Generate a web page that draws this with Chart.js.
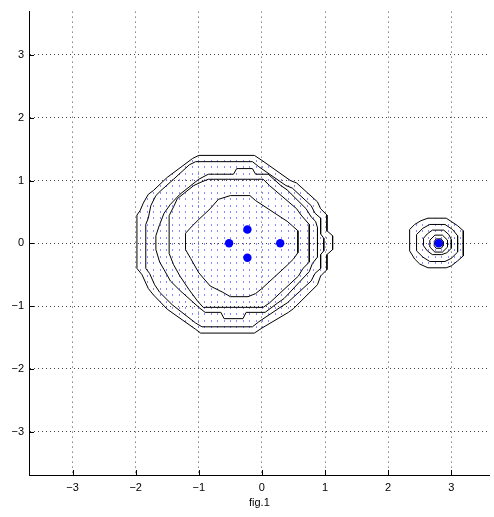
<!DOCTYPE html>
<html>
<head>
<meta charset="utf-8">
<script src="https://cdn.jsdelivr.net/npm/chart.js@4.4.1/dist/chart.umd.min.js"></script>
<style>
html, body { margin: 0; padding: 0; background: #fff; }
</style>
</head>
<body>
<canvas id="graphCanvas" width="494" height="517"></canvas>
<script>
// axis setup
var xTicks = [-3, -2, -1, 0, 1, 2, 3];
var yTicks = [-3, -2, -1, 0, 1, 2, 3];
var xRange = [-3.69, 3.61];
var yRange = [-3.69, 3.69];

// cluster centres (big blue dots)
var centerX = [-0.52, -0.23, -0.23, 0.29, 2.80];
var centerY = [0.00, 0.22, -0.23, 0.00, 0.00];

// contour lines of the big cluster, outer to inner
var bigC1 = [[-1.00,1.40],[-0.12,1.40],[0.00,1.32],[0.45,1.00],[0.55,0.96],[0.88,0.66],[0.93,0.55],[1.03,0.45],[1.03,0.20],[1.12,0.12],[1.12,-0.10],[1.03,-0.18],[1.03,-0.42],[0.93,-0.52],[0.88,-0.66],[0.50,-1.04],[0.42,-1.10],[0.00,-1.35],[-0.12,-1.43],[-0.97,-1.43],[-1.05,-1.37],[-1.50,-1.05],[-1.72,-0.82],[-1.80,-0.72],[-1.90,-0.50],[-1.98,-0.40],[-1.98,0.45],[-1.93,0.52],[-1.88,0.64],[-1.80,0.78],[-1.72,0.84],[-1.50,1.05],[-1.10,1.35],[-1.00,1.40]];
var bigC2 = [[-1.05,1.30],[-0.15,1.30],[-0.05,1.22],[0.38,0.92],[0.48,0.88],[0.78,0.60],[0.84,0.48],[0.93,0.40],[0.93,0.15],[0.98,0.08],[0.98,-0.12],[0.93,-0.18],[0.93,-0.40],[0.84,-0.48],[0.78,-0.60],[0.40,-0.95],[0.32,-1.00],[-0.05,-1.25],[-0.15,-1.33],[-0.95,-1.33],[-1.05,-1.27],[-1.42,-0.98],[-1.62,-0.78],[-1.70,-0.66],[-1.78,-0.48],[-1.84,-0.40],[-1.84,0.30],[-1.80,0.40],[-1.76,0.60],[-1.68,0.76],[-1.60,0.84],[-1.40,1.02],[-1.15,1.25],[-1.05,1.30]];
var bigC3 = [[-0.75,1.10],[-0.45,1.10],[-0.40,1.19],[-0.15,1.19],[-0.10,1.10],[0.10,1.10],[0.30,0.92],[0.40,0.85],[0.70,0.55],[0.78,0.42],[0.85,0.35],[0.88,0.25],[0.88,-0.22],[0.80,-0.32],[0.75,-0.45],[0.35,-0.88],[0.25,-0.95],[0.05,-1.10],[-0.25,-1.10],[-0.30,-1.20],[-0.60,-1.20],[-0.65,-1.10],[-0.90,-1.10],[-1.00,-1.02],[-1.30,-0.75],[-1.45,-0.60],[-1.55,-0.42],[-1.62,-0.30],[-1.68,-0.10],[-1.68,0.12],[-1.62,0.30],[-1.55,0.48],[-1.45,0.62],[-1.30,0.78],[-1.00,1.02],[-0.85,1.10],[-0.75,1.10]];
var bigC4 = [[-0.85,1.02],[0.02,1.02],[0.12,0.92],[0.55,0.55],[0.62,0.45],[0.75,0.30],[0.75,-0.30],[0.65,-0.40],[0.58,-0.52],[0.12,-0.95],[0.02,-1.02],[-0.93,-1.02],[-1.02,-0.92],[-1.16,-0.73],[-1.30,-0.52],[-1.40,-0.34],[-1.47,-0.16],[-1.47,0.44],[-1.40,0.58],[-1.34,0.71],[-1.08,0.92],[-0.95,0.98],[-0.85,1.02]];
var bigC5 = [[-0.50,0.76],[-0.19,0.76],[-0.10,0.68],[0.40,0.35],[0.48,0.28],[0.57,0.20],[0.57,-0.15],[0.50,-0.25],[0.40,-0.35],[0.00,-0.72],[-0.10,-0.80],[-0.22,-0.85],[-0.50,-0.85],[-0.62,-0.78],[-0.82,-0.68],[-1.00,-0.47],[-1.13,-0.24],[-1.21,-0.10],[-1.21,0.16],[-1.10,0.28],[-1.00,0.38],[-0.82,0.55],[-0.69,0.70],[-0.50,0.76]];

// contour lines of the small cluster, outer to inner
var smallC1 = [[2.63,0.40],[2.92,0.40],[2.98,0.36],[3.10,0.28],[3.19,0.20],[3.19,-0.20],[3.10,-0.28],[3.00,-0.36],[2.92,-0.39],[2.63,-0.39],[2.50,-0.33],[2.42,-0.25],[2.34,-0.12],[2.34,0.22],[2.42,0.30],[2.52,0.36],[2.63,0.40]];
var smallC2 = [[2.66,0.30],[2.90,0.30],[3.02,0.22],[3.10,0.12],[3.10,-0.14],[3.00,-0.24],[2.90,-0.29],[2.66,-0.29],[2.55,-0.22],[2.45,-0.12],[2.45,0.14],[2.55,0.24],[2.66,0.30]];
var smallC3 = [[2.70,0.21],[2.88,0.21],[2.96,0.14],[3.00,0.06],[3.00,-0.08],[2.93,-0.15],[2.85,-0.18],[2.70,-0.18],[2.62,-0.12],[2.56,-0.04],[2.56,0.08],[2.62,0.15],[2.70,0.21]];
var smallC4 = [[2.74,0.13],[2.86,0.13],[2.94,0.05],[2.94,-0.06],[2.86,-0.14],[2.74,-0.14],[2.66,-0.06],[2.66,0.05],[2.74,0.13]];
var smallC5 = [[2.76,0.07],[2.84,0.07],[2.87,0.03],[2.87,-0.04],[2.84,-0.08],[2.76,-0.08],[2.73,-0.04],[2.73,0.03],[2.76,0.07]];

var contours = [bigC1, bigC2, bigC3, bigC4, bigC5, smallC1, smallC2, smallC3, smallC4, smallC5];
var dotted = [bigC1, smallC1];

// pale blue grid of sample points shown inside the outer contours
var dotCanvas = document.createElement('canvas');
dotCanvas.width = 64;
dotCanvas.height = 64;
var dctx = dotCanvas.getContext('2d');
dctx.fillStyle = 'rgba(90,90,255,0.7)';
for (var i = 0; i < 10; i++) {
    for (var j = 0; j < 10; j++) {
        dctx.fillRect(Math.round(i * 6.4), Math.round(j * 6.4), 1, 2);
    }
}

function toPoints(arr) {
    return arr.map(function (p) { return { x: p[0], y: p[1] }; });
}

function fmt(v) {
    return v < 0 ? '\u2212' + Math.abs(v) : String(v);
}

// markers first in the list so they end up on top
var datasets = [];
datasets.push({
    data: centerX.map(function (x, k) { return { x: x, y: centerY[k] }; }),
    showLine: false,
    pointRadius: 4.2,
    pointBorderWidth: 0,
    backgroundColor: '#0000ff',
    borderColor: '#0000ff'
});
contours.forEach(function (c) {
    datasets.push({
        data: toPoints(c),
        showLine: true,
        borderColor: '#000000',
        borderWidth: 1,
        pointRadius: 0,
        pointHoverRadius: 0,
        tension: 0,
        fill: false,
        backgroundColor: '#000000'
    });
});

var helpers = {
    id: 'helpers',
    // dot texture clipped to the outer contours, under the lines
    beforeDatasetsDraw: function (chart) {
        var ctx = chart.ctx, s = chart.scales, a = chart.chartArea;
        var pat = ctx.createPattern(dotCanvas, 'repeat');
        pat.setTransform(new DOMMatrix([1, 0, 0, 1, Math.round(s.x.getPixelForValue(0)), Math.round(s.y.getPixelForValue(0))]));
        dotted.forEach(function (c) {
            ctx.save();
            ctx.beginPath();
            c.forEach(function (p, k) {
                var px = s.x.getPixelForValue(p[0]), py = s.y.getPixelForValue(p[1]);
                if (k === 0) ctx.moveTo(px, py); else ctx.lineTo(px, py);
            });
            ctx.closePath();
            ctx.clip();
            ctx.fillStyle = pat;
            ctx.fillRect(a.left, a.top, a.right - a.left, a.bottom - a.top);
            ctx.restore();
        });
    },
    // short inward tick marks
    afterDraw: function (chart) {
        var ctx = chart.ctx, a = chart.chartArea, s = chart.scales;
        ctx.save();
        ctx.strokeStyle = '#000';
        ctx.lineWidth = 1;
        ctx.beginPath();
        xTicks.forEach(function (v) {
            var px = Math.round(s.x.getPixelForValue(v)) + 0.5;
            ctx.moveTo(px, a.bottom);
            ctx.lineTo(px, a.bottom - 5);
        });
        yTicks.forEach(function (v) {
            var py = Math.round(s.y.getPixelForValue(v)) + 0.5;
            ctx.moveTo(a.left, py);
            ctx.lineTo(a.left + 5, py);
        });
        ctx.stroke();
        ctx.restore();
    }
};

var font = { family: 'Liberation Sans, Arial, sans-serif', size: 11 };

new Chart(document.getElementById('graphCanvas'), {
    type: 'scatter',
    data: { datasets: datasets },
    options: {
        responsive: false,
        animation: false,
        layout: { padding: { top: 5, right: 0, left: 0, bottom: 0 } },
        plugins: { legend: { display: false }, tooltip: { enabled: false }, colors: { enabled: false } },
        scales: {
            x: {
                type: 'linear',
                min: xRange[0],
                max: xRange[1],
                afterBuildTicks: function (s) { s.ticks = xTicks.map(function (v) { return { value: v }; }); },
                afterFit: function (s) { s.height = 42; },
                ticks: { color: '#000', font: font, padding: 6, maxRotation: 0, callback: fmt },
                grid: { color: '#444', lineWidth: 1, drawTicks: false },
                border: { display: true, color: '#000', width: 1, dash: [1, 4] },
                title: { display: true, text: 'fig.1', color: '#000', font: font, padding: { top: 0, bottom: 7 } }
            },
            y: {
                type: 'linear',
                min: yRange[0],
                max: yRange[1],
                afterBuildTicks: function (s) { s.ticks = yTicks.map(function (v) { return { value: v }; }); },
                afterFit: function (s) { s.width = 29; },
                ticks: { color: '#000', font: font, padding: 5, callback: fmt },
                grid: { color: '#444', lineWidth: 1, drawTicks: false },
                border: { display: true, color: '#000', width: 1, dash: [1, 3] }
            }
        }
    },
    plugins: [helpers]
});
</script>
</body>
</html>
